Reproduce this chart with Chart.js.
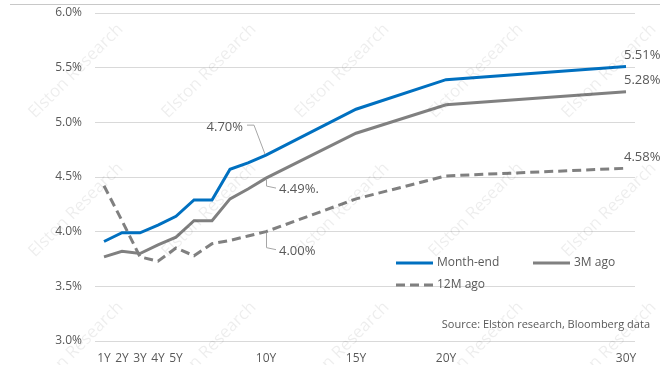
<!DOCTYPE html>
<html>
<head>
<meta charset="utf-8">
<script src="https://cdn.jsdelivr.net/npm/chart.js@4.4.1/dist/chart.umd.min.js"></script>
<style>
  body { margin: 0; background: #fff; }
  canvas { display: block; }
</style>
</head>
<body>
<canvas id="myChart" width="667" height="365"></canvas>
<script>
// yield curve points, tenor in years
const tenors = [1, 2, 3, 4, 5, 6, 7, 8, 9, 10, 15, 20, 30];
const tickTenors = [1, 2, 3, 4, 5, 10, 15, 20, 30];
const monthEnd = [3.91, 3.99, 3.99, 4.06, 4.14, 4.29, 4.29, 4.57, 4.63, 4.70, 5.12, 5.39, 5.51];
const threeMAgo = [3.77, 3.82, 3.80, 3.88, 3.95, 4.10, 4.10, 4.30, 4.39, 4.49, 4.90, 5.16, 5.28];
const twelveMAgo = [4.42, 4.10, 3.77, 3.73, 3.85, 3.78, 3.89, 3.92, 3.96, 4.00, 4.30, 4.51, 4.58];
const seriesNames = ["Month-end", "3M ago", "12M ago"];
// callouts at the 10Y point
const calloutText = ["4.70%", "4.49%.", "4.00%"];
const sourceText = "Source: Elston research, Bloomberg data";
const watermarkText = "Elston Research";

const FONT = "'Open Sans', 'Noto Sans', sans-serif";
const TEXT = "#595959";

function toPoints(values) {
  return tenors.map((t, i) => ({ x: t, y: values[i] }));
}

const styles = [
  { color: "#0070c0", dash: [] },
  { color: "#808080", dash: [] },
  { color: "#808080", dash: [9, 5] },
];

const extras = {
  id: "extras",
  beforeDraw(chart) {
    const c = chart.ctx;
    c.save();
    c.strokeStyle = "#c8c8c8";
    c.lineWidth = 1;
    c.beginPath();
    c.moveTo(10, 4.5);
    c.lineTo(660, 4.5);
    c.stroke();
    c.restore();
  },
  afterDatasetsDraw(chart) {
    const c = chart.ctx;
    const xs = chart.scales.x;
    const ys = chart.scales.y;
    c.save();

    // watermark grid
    c.font = "17px " + FONT;
    c.fillStyle = "rgba(0,0,0,0.07)";
    c.textAlign = "center";
    c.textBaseline = "middle";
    [71, 210, 349].forEach((cy) => {
      [76, 209, 342, 476, 609].forEach((cx) => {
        c.save();
        c.translate(cx, cy);
        c.rotate(-Math.PI / 4);
        c.fillText(watermarkText, 0, 0);
        c.restore();
      });
    });

    // end-of-line value labels
    c.font = "13px " + FONT;
    c.fillStyle = TEXT;
    c.textAlign = "left";
    chart.data.datasets.forEach((ds) => {
      const p = ds.data[ds.data.length - 1];
      const px = xs.getPixelForValue(p.x);
      const py = ys.getPixelForValue(p.y);
      c.fillText(p.y.toFixed(2) + "%", px - 2, py - 11);
    });

    // callouts at 10Y
    const i10 = tenors.indexOf(10);
    const px = xs.getPixelForValue(10);
    const pts = chart.data.datasets.map((ds) => ys.getPixelForValue(ds.data[i10].y));
    c.strokeStyle = "#a6a6a6";
    c.lineWidth = 1;
    c.beginPath();
    c.moveTo(px - 19, pts[0] - 30);
    c.lineTo(px - 12, pts[0] - 30);
    c.lineTo(px - 1, pts[0] - 1);
    c.moveTo(px + 0.5, pts[1] + 1);
    c.lineTo(px + 0.5, pts[1] + 8);
    c.lineTo(px + 10, pts[1] + 10);
    c.moveTo(px + 0.5, pts[2] + 1);
    c.lineTo(px + 0.5, pts[2] + 16);
    c.lineTo(px + 10, pts[2] + 18);
    c.stroke();
    c.textAlign = "right";
    c.fillText(calloutText[0], px - 23, pts[0] - 28);
    c.textAlign = "left";
    c.fillText(calloutText[1], px + 13, pts[1] + 11);
    c.fillText(calloutText[2], px + 13, pts[2] + 20);

    // legend
    const legendPos = [[396, 263], [533, 263], [396, 285]];
    c.font = "12px " + FONT;
    legendPos.forEach(([lx, ly], i) => {
      c.strokeStyle = styles[i].color;
      c.lineWidth = 3;
      c.setLineDash(styles[i].dash);
      c.beginPath();
      c.moveTo(lx, ly);
      c.lineTo(lx + 37, ly);
      c.stroke();
      c.setLineDash([]);
      c.fillStyle = TEXT;
      c.textAlign = "left";
      c.fillText(seriesNames[i], lx + 41, ly);
    });

    // source note
    c.font = "11px " + FONT;
    c.textAlign = "right";
    c.fillText(sourceText, 650, 325);
    c.restore();
  },
};

const ctx = document.getElementById("myChart").getContext("2d");
const myChart = new Chart(ctx, {
  type: "line",
  data: {
    datasets: [monthEnd, threeMAgo, twelveMAgo].map((vals, i) => ({
      label: seriesNames[i],
      data: toPoints(vals),
      borderColor: styles[i].color,
      borderDash: styles[i].dash,
      borderWidth: 3,
      pointRadius: 0,
      tension: 0,
      fill: false,
    })),
  },
  options: {
    responsive: false,
    animation: false,
    devicePixelRatio: 1,
    layout: { padding: { left: 0, right: 32, top: 13, bottom: 0 } },
    plugins: { legend: { display: false }, tooltip: { enabled: false } },
    scales: {
      x: {
        type: "linear",
        min: 0.5,
        max: 30.5,
        afterBuildTicks: (s) => { s.ticks = tickTenors.map((v) => ({ value: v })); },
        afterFit: (s) => { s.height = 24; },
        grid: { display: false, drawTicks: false },
        border: { display: false },
        ticks: {
          autoSkip: false,
          maxRotation: 0,
          padding: 10,
          color: TEXT,
          font: { family: FONT, size: 12 },
          callback: (v) => v + "Y",
        },
      },
      y: {
        min: 3,
        max: 6,
        afterFit: (s) => {
          s.width = 95;
          s.paddingTop = 0;
          s.paddingBottom = 0;
        },
        grid: { color: "#d9d9d9", lineWidth: 1, drawTicks: false },
        border: { display: false },
        ticks: {
          stepSize: 0.5,
          padding: 13,
          color: TEXT,
          font: { family: FONT, size: 12 },
          callback: (v) => v.toFixed(1) + "%",
        },
      },
    },
  },
  plugins: [extras],
});
</script>
</body>
</html>
